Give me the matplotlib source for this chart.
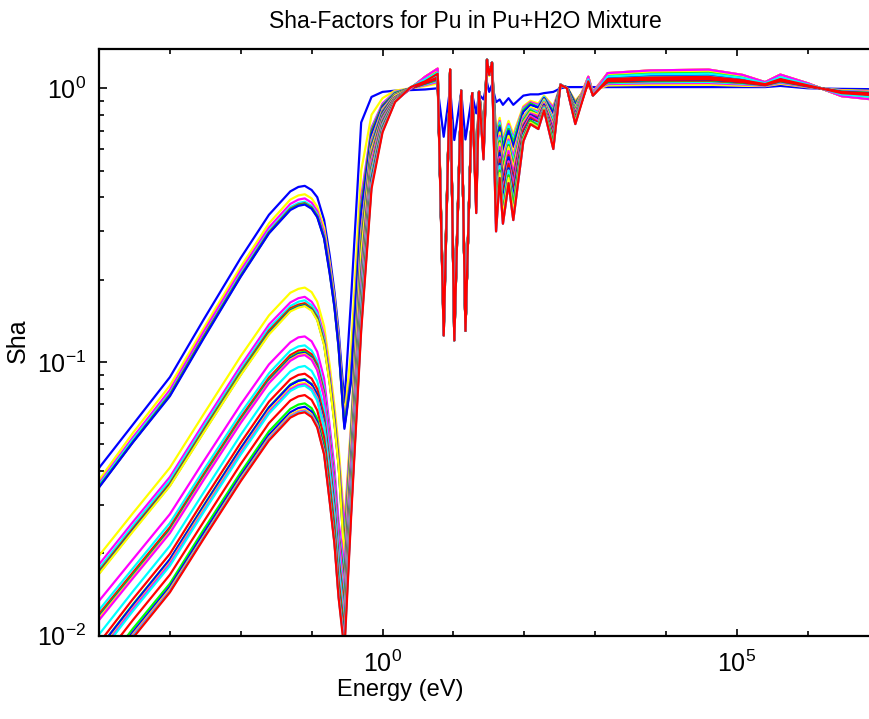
import matplotlib
matplotlib.use("Agg")
import matplotlib.pyplot as plt
from matplotlib.ticker import FixedLocator, LogLocator, NullFormatter

plt.rcParams['font.family'] = ['Liberation Sans', 'DejaVu Sans']
plt.rcParams['mathtext.fontset'] = 'custom'
plt.rcParams['mathtext.rm'] = 'Liberation Sans'
plt.rcParams['mathtext.it'] = 'Liberation Sans:italic'
plt.rcParams['mathtext.bf'] = 'Liberation Sans:bold'

# energy grid (eV) shared by all curves
energy = [1e-4, 3e-4, 1e-3, 3e-3, 1e-2, 2.5e-2, 5e-2, 6.5e-2, 8e-2, 0.1, 0.12, 0.15, 0.18, 0.21, 0.24,
          0.29, 0.36, 0.5, 0.7, 1.0, 1.5, 2.5,
          4.0, 6.0, 7.3, 9.0, 10.3, 12.9, 14.8, 18.4, 21, 23, 26.6, 29.8, 32, 35, 40, 45, 50, 60, 70, 97,
          122, 158, 190, 257, 324, 400, 525, 800, 930, 1500,
          6000, 4e4, 1.2e5, 2.5e5, 4.1e5, 1e6, 3e6, 2e7]

# Sha values, one row per curve
group1 = [
    [0.041, 0.059, 0.088, 0.143, 0.24, 0.345, 0.42, 0.436, 0.44, 0.425, 0.40, 0.33, 0.245, 0.18, 0.13,
     0.071, 0.17, 0.75, 0.93, 0.97, 0.98, 0.985,
     0.99, 1.0, 0.665, 1.0, 0.647, 0.97, 0.65, 0.95, 0.81, 0.95, 0.91, 1.05, 0.97, 1.03, 0.89, 0.91, 0.87, 0.92, 0.87, 0.94,
     0.95, 0.95, 0.96, 0.97, 1.0, 1.01, 1.01, 1.01, 1.01, 1.01,
     1.01, 1.01, 1.01, 1.01, 1.02, 1.0, 0.995, 0.99],
    [0.037, 0.055, 0.082, 0.133, 0.223, 0.321, 0.392, 0.406, 0.41, 0.396, 0.369, 0.31, 0.23, 0.172, 0.123,
     0.062, 0.11, 0.50, 0.80, 0.92, 0.98, 1.0,
     1.018, 1.04, 0.14, 1.14, 0.13, 0.98, 0.135, 0.96, 0.50, 0.97, 0.70, 1.25, 1.11, 1.22, 0.70, 0.78, 0.66, 0.76, 0.68, 0.86,
     0.90, 0.88, 0.94, 0.86, 1.02, 1.01, 0.90, 1.018, 0.98, 1.024,
     1.029, 1.03, 1.021, 1.018, 1.038, 1.008, 0.985, 0.972],
    [0.036, 0.053, 0.079, 0.129, 0.216, 0.31, 0.378, 0.392, 0.396, 0.382, 0.356, 0.297, 0.222, 0.166, 0.119,
     0.06, 0.09, 0.40, 0.72, 0.88, 0.97, 1.0,
     1.027, 1.055, 0.14, 1.15, 0.13, 0.98, 0.135, 0.96, 0.49, 0.97, 0.69, 1.26, 1.12, 1.23, 0.68, 0.76, 0.64, 0.74, 0.66, 0.85,
     0.89, 0.87, 0.93, 0.85, 1.02, 1.01, 0.89, 1.027, 0.98, 1.036,
     1.043, 1.045, 1.032, 1.021, 1.047, 1.011, 0.979, 0.963],
    [0.0355, 0.052, 0.077, 0.125, 0.21, 0.302, 0.368, 0.381, 0.385, 0.372, 0.347, 0.289, 0.216, 0.162, 0.116,
     0.059, 0.088, 0.38, 0.71, 0.87, 0.965, 1.0,
     1.033, 1.065, 0.14, 1.15, 0.13, 0.98, 0.135, 0.96, 0.49, 0.97, 0.69, 1.26, 1.12, 1.23, 0.66, 0.75, 0.63, 0.73, 0.65, 0.84,
     0.88, 0.86, 0.93, 0.83, 1.02, 1.01, 0.88, 1.033, 0.98, 1.044,
     1.052, 1.055, 1.039, 1.024, 1.053, 1.014, 0.976, 0.957],
    [0.035, 0.051, 0.076, 0.124, 0.207, 0.298, 0.363, 0.376, 0.38, 0.367, 0.342, 0.285, 0.213, 0.16, 0.114,
     0.058, 0.087, 0.37, 0.70, 0.865, 0.96, 1.0,
     1.039, 1.075, 0.14, 1.15, 0.13, 0.98, 0.135, 0.96, 0.48, 0.97, 0.68, 1.26, 1.12, 1.23, 0.64, 0.73, 0.61, 0.71, 0.63, 0.83,
     0.88, 0.85, 0.92, 0.82, 1.02, 1.01, 0.88, 1.039, 0.97, 1.052,
     1.062, 1.065, 1.046, 1.026, 1.059, 1.016, 0.972, 0.951],
    [0.035, 0.051, 0.0755, 0.123, 0.206, 0.296, 0.361, 0.374, 0.378, 0.365, 0.34, 0.284, 0.212, 0.159, 0.113,
     0.058, 0.086, 0.36, 0.69, 0.86, 0.96, 1.0,
     1.042, 1.08, 0.14, 1.16, 0.13, 0.98, 0.135, 0.96, 0.48, 0.97, 0.68, 1.26, 1.12, 1.23, 0.64, 0.73, 0.61, 0.71, 0.63, 0.83,
     0.88, 0.85, 0.92, 0.82, 1.02, 1.01, 0.88, 1.042, 0.97, 1.056,
     1.067, 1.07, 1.049, 1.028, 1.062, 1.018, 0.971, 0.948],
    [0.0348, 0.0508, 0.075, 0.122, 0.205, 0.295, 0.359, 0.372, 0.376, 0.363, 0.338, 0.282, 0.21, 0.158, 0.113,
     0.057, 0.085, 0.35, 0.68, 0.855, 0.955, 1.0,
     1.045, 1.085, 0.14, 1.16, 0.13, 0.98, 0.135, 0.96, 0.47, 0.97, 0.67, 1.26, 1.12, 1.23, 0.62, 0.72, 0.59, 0.70, 0.61, 0.82,
     0.87, 0.85, 0.92, 0.81, 1.02, 1.01, 0.87, 1.045, 0.97, 1.06,
     1.071, 1.075, 1.053, 1.029, 1.065, 1.019, 0.969, 0.945],
]

group2 = [
    [0.0196, 0.028, 0.0411, 0.0645, 0.105, 0.148, 0.179, 0.185, 0.187, 0.18, 0.166, 0.135, 0.097, 0.069, 0.049,
     0.026, 0.06, 0.30, 0.65, 0.84, 0.95, 1.0,
     1.102, 1.18, 0.135, 1.17, 0.125, 0.98, 0.13, 0.96, 0.46, 0.97, 0.66, 1.27, 1.12, 1.24, 0.58, 0.69, 0.56, 0.67, 0.58, 0.79,
     0.85, 0.83, 0.91, 0.78, 1.03, 1.0, 0.85, 1.102, 0.97, 1.136,
     1.162, 1.17, 1.119, 1.053, 1.122, 1.043, 0.936, 0.888],
    [0.0182, 0.026, 0.038, 0.0597, 0.097, 0.137, 0.165, 0.171, 0.173, 0.166, 0.154, 0.125, 0.09, 0.064, 0.045,
     0.0245, 0.057, 0.29, 0.64, 0.83, 0.948, 1.0,
     1.099, 1.175, 0.135, 1.17, 0.125, 0.98, 0.13, 0.96, 0.45, 0.97, 0.65, 1.27, 1.12, 1.24, 0.56, 0.67, 0.54, 0.65, 0.56, 0.78,
     0.84, 0.82, 0.90, 0.77, 1.03, 1.0, 0.84, 1.099, 0.97, 1.132,
     1.157, 1.165, 1.116, 1.051, 1.119, 1.041, 0.937, 0.891],
    [0.0176, 0.0252, 0.037, 0.058, 0.094, 0.133, 0.16, 0.166, 0.168, 0.161, 0.15, 0.121, 0.087, 0.062, 0.044,
     0.022, 0.055, 0.28, 0.63, 0.825, 0.945, 1.0,
     1.054, 1.10, 0.135, 1.16, 0.125, 0.98, 0.13, 0.96, 0.44, 0.97, 0.64, 1.27, 1.12, 1.24, 0.54, 0.66, 0.52, 0.64, 0.54, 0.77,
     0.84, 0.81, 0.90, 0.76, 1.03, 1.0, 0.84, 1.054, 0.96, 1.072,
     1.086, 1.09, 1.063, 1.033, 1.074, 1.023, 0.964, 0.936],
    [0.0172, 0.0246, 0.036, 0.0566, 0.092, 0.13, 0.157, 0.162, 0.164, 0.157, 0.146, 0.118, 0.085, 0.061, 0.043,
     0.021, 0.053, 0.27, 0.62, 0.82, 0.944, 1.0,
     1.048, 1.09, 0.135, 1.16, 0.125, 0.98, 0.13, 0.96, 0.43, 0.97, 0.63, 1.27, 1.12, 1.24, 0.52, 0.64, 0.51, 0.62, 0.52, 0.76,
     0.83, 0.80, 0.89, 0.74, 1.03, 1.0, 0.83, 1.048, 0.96, 1.064,
     1.076, 1.08, 1.056, 1.03, 1.068, 1.02, 0.967, 0.942],
    [0.017, 0.0243, 0.0356, 0.0559, 0.091, 0.128, 0.155, 0.16, 0.162, 0.156, 0.144, 0.117, 0.084, 0.06, 0.042,
     0.02, 0.052, 0.26, 0.615, 0.815, 0.942, 1.0,
     1.084, 1.15, 0.135, 1.17, 0.125, 0.98, 0.13, 0.96, 0.43, 0.97, 0.63, 1.27, 1.12, 1.24, 0.52, 0.64, 0.51, 0.62, 0.52, 0.76,
     0.83, 0.80, 0.89, 0.74, 1.03, 1.0, 0.83, 1.084, 0.96, 1.112,
     1.133, 1.14, 1.098, 1.045, 1.104, 1.035, 0.946, 0.906],
    [0.0169, 0.0242, 0.0354, 0.0555, 0.09, 0.127, 0.154, 0.159, 0.161, 0.155, 0.143, 0.116, 0.084, 0.06, 0.042,
     0.019, 0.051, 0.255, 0.61, 0.81, 0.94, 1.0,
     1.072, 1.13, 0.135, 1.16, 0.125, 0.98, 0.13, 0.96, 0.43, 0.97, 0.63, 1.27, 1.12, 1.24, 0.50, 0.63, 0.49, 0.61, 0.51, 0.75,
     0.82, 0.80, 0.89, 0.73, 1.03, 1.0, 0.82, 1.072, 0.96, 1.096,
     1.114, 1.12, 1.084, 1.04, 1.092, 1.03, 0.953, 0.918],
    [0.0168, 0.024, 0.0352, 0.0552, 0.0896, 0.126, 0.153, 0.158, 0.16, 0.154, 0.142, 0.115, 0.083, 0.059, 0.0416,
     0.019, 0.05, 0.25, 0.60, 0.80, 0.94, 1.0,
     1.096, 1.17, 0.135, 1.17, 0.125, 0.98, 0.13, 0.96, 0.43, 0.97, 0.63, 1.27, 1.12, 1.24, 0.50, 0.63, 0.49, 0.61, 0.51, 0.75,
     0.82, 0.80, 0.89, 0.73, 1.03, 1.0, 0.82, 1.096, 0.96, 1.128,
     1.152, 1.16, 1.112, 1.05, 1.116, 1.04, 0.939, 0.894],
]

group3 = [
    [0.0134, 0.019, 0.0278, 0.0434, 0.07, 0.098, 0.118, 0.123, 0.124, 0.119, 0.109, 0.087, 0.058, 0.041, 0.026,
     0.018, 0.045, 0.22, 0.58, 0.80, 0.93, 1.0,
     1.102, 1.18, 0.13, 1.17, 0.125, 0.98, 0.13, 0.96, 0.42, 0.97, 0.62, 1.27, 1.12, 1.24, 0.48, 0.61, 0.47, 0.59, 0.49, 0.74,
     0.81, 0.79, 0.88, 0.72, 1.03, 1.0, 0.81, 1.102, 0.96, 1.136,
     1.162, 1.17, 1.119, 1.053, 1.122, 1.043, 0.936, 0.888],
    [0.0124, 0.0176, 0.0258, 0.0403, 0.065, 0.0909, 0.11, 0.114, 0.115, 0.11, 0.101, 0.0805, 0.054, 0.038, 0.024,
     0.017, 0.044, 0.215, 0.575, 0.795, 0.928, 1.0,
     1.09, 1.16, 0.13, 1.16, 0.125, 0.98, 0.13, 0.96, 0.41, 0.97, 0.61, 1.27, 1.12, 1.24, 0.46, 0.59, 0.46, 0.57, 0.47, 0.73,
     0.80, 0.78, 0.87, 0.70, 1.03, 1.0, 0.80, 1.09, 0.96, 1.12,
     1.143, 1.15, 1.105, 1.048, 1.11, 1.038, 0.943, 0.90],
    [0.012, 0.017, 0.0249, 0.0389, 0.0627, 0.0877, 0.106, 0.11, 0.111, 0.1066, 0.0977, 0.0777, 0.052, 0.0366, 0.0233,
     0.016, 0.043, 0.21, 0.57, 0.79, 0.926, 1.0,
     1.054, 1.10, 0.13, 1.16, 0.125, 0.98, 0.13, 0.96, 0.41, 0.97, 0.61, 1.27, 1.12, 1.24, 0.46, 0.59, 0.46, 0.57, 0.47, 0.73,
     0.80, 0.78, 0.87, 0.70, 1.03, 1.0, 0.80, 1.054, 0.96, 1.072,
     1.086, 1.09, 1.063, 1.033, 1.074, 1.023, 0.964, 0.936],
    [0.0118, 0.0167, 0.0244, 0.0382, 0.0616, 0.0861, 0.104, 0.108, 0.109, 0.1046, 0.0959, 0.0763, 0.0512, 0.036, 0.0229,
     0.0155, 0.042, 0.205, 0.56, 0.785, 0.924, 1.0,
     1.096, 1.17, 0.13, 1.17, 0.125, 0.98, 0.13, 0.96, 0.40, 0.97, 0.60, 1.27, 1.12, 1.24, 0.44, 0.58, 0.44, 0.56, 0.45, 0.72,
     0.80, 0.77, 0.87, 0.69, 1.03, 1.0, 0.80, 1.096, 0.95, 1.128,
     1.152, 1.16, 1.112, 1.05, 1.116, 1.04, 0.939, 0.894],
    [0.0117, 0.0165, 0.0242, 0.0378, 0.061, 0.0853, 0.103, 0.107, 0.108, 0.1037, 0.095, 0.0756, 0.0508, 0.0356, 0.0227,
     0.015, 0.041, 0.20, 0.555, 0.78, 0.922, 1.0,
     1.078, 1.14, 0.13, 1.16, 0.125, 0.98, 0.13, 0.96, 0.40, 0.97, 0.60, 1.27, 1.12, 1.24, 0.44, 0.58, 0.44, 0.56, 0.45, 0.72,
     0.80, 0.77, 0.87, 0.69, 1.03, 1.0, 0.80, 1.078, 0.95, 1.104,
     1.124, 1.13, 1.091, 1.043, 1.098, 1.033, 0.95, 0.912],
    [0.0116, 0.0164, 0.024, 0.0375, 0.0605, 0.0845, 0.102, 0.106, 0.107, 0.1027, 0.0942, 0.0749, 0.0503, 0.0353, 0.0225,
     0.0145, 0.04, 0.195, 0.55, 0.775, 0.92, 1.0,
     1.09, 1.16, 0.13, 1.16, 0.125, 0.98, 0.13, 0.96, 0.40, 0.97, 0.60, 1.27, 1.12, 1.24, 0.42, 0.56, 0.42, 0.54, 0.44, 0.71,
     0.79, 0.76, 0.86, 0.68, 1.03, 1.0, 0.79, 1.09, 0.95, 1.12,
     1.143, 1.15, 1.105, 1.048, 1.11, 1.038, 0.943, 0.90],
    [0.0114, 0.0162, 0.0237, 0.0371, 0.0599, 0.0837, 0.101, 0.105, 0.106, 0.1018, 0.0933, 0.0742, 0.0498, 0.035, 0.0223,
     0.014, 0.04, 0.19, 0.54, 0.77, 0.92, 1.0,
     1.096, 1.17, 0.13, 1.17, 0.125, 0.98, 0.13, 0.96, 0.40, 0.97, 0.60, 1.27, 1.12, 1.24, 0.42, 0.56, 0.42, 0.54, 0.44, 0.71,
     0.79, 0.76, 0.86, 0.68, 1.03, 1.0, 0.79, 1.096, 0.95, 1.128,
     1.152, 1.16, 1.112, 1.05, 1.116, 1.04, 0.939, 0.894],
]

group4 = [
    [0.0101, 0.0145, 0.0213, 0.0334, 0.0542, 0.0764, 0.0923, 0.0957, 0.0967, 0.0928, 0.0851, 0.0677, 0.0454, 0.0319, 0.0203,
     0.0135, 0.037, 0.18, 0.52, 0.76, 0.915, 1.0,
     1.072, 1.13, 0.13, 1.16, 0.12, 0.98, 0.13, 0.96, 0.39, 0.97, 0.59, 1.27, 1.12, 1.24, 0.40, 0.55, 0.41, 0.53, 0.42, 0.70,
     0.78, 0.75, 0.86, 0.67, 1.03, 1.0, 0.78, 1.072, 0.95, 1.096,
     1.114, 1.12, 1.084, 1.04, 1.092, 1.03, 0.953, 0.918],
    [0.0094, 0.0136, 0.0199, 0.0313, 0.0507, 0.0716, 0.0865, 0.0897, 0.0906, 0.087, 0.0797, 0.0634, 0.0426, 0.0299, 0.019,
     0.013, 0.036, 0.175, 0.515, 0.755, 0.914, 1.0,
     1.054, 1.10, 0.13, 1.16, 0.12, 0.98, 0.13, 0.96, 0.39, 0.97, 0.59, 1.27, 1.12, 1.24, 0.40, 0.55, 0.41, 0.53, 0.42, 0.70,
     0.78, 0.75, 0.86, 0.67, 1.03, 1.0, 0.78, 1.054, 0.95, 1.072,
     1.086, 1.09, 1.063, 1.033, 1.074, 1.023, 0.964, 0.936],
    [0.009, 0.013, 0.019, 0.0299, 0.0485, 0.0684, 0.0827, 0.0857, 0.0866, 0.0831, 0.0762, 0.0606, 0.0407, 0.0286, 0.0182,
     0.0125, 0.035, 0.17, 0.51, 0.75, 0.912, 1.0,
     1.093, 1.165, 0.13, 1.17, 0.12, 0.98, 0.13, 0.96, 0.38, 0.97, 0.58, 1.27, 1.12, 1.24, 0.38, 0.53, 0.39, 0.51, 0.40, 0.68,
     0.77, 0.74, 0.85, 0.65, 1.03, 1.0, 0.77, 1.093, 0.95, 1.124,
     1.147, 1.155, 1.109, 1.049, 1.113, 1.039, 0.941, 0.897],
    [0.009, 0.0129, 0.019, 0.0297, 0.0483, 0.0681, 0.0823, 0.0853, 0.0862, 0.0828, 0.0759, 0.0603, 0.0405, 0.0284, 0.0181,
     0.012, 0.035, 0.168, 0.505, 0.745, 0.91, 1.0,
     1.078, 1.14, 0.13, 1.16, 0.12, 0.98, 0.13, 0.96, 0.38, 0.97, 0.58, 1.27, 1.12, 1.24, 0.38, 0.53, 0.39, 0.51, 0.40, 0.68,
     0.77, 0.74, 0.85, 0.65, 1.03, 1.0, 0.77, 1.078, 0.95, 1.104,
     1.124, 1.13, 1.091, 1.043, 1.098, 1.033, 0.95, 0.912],
    [0.0087, 0.0126, 0.0185, 0.029, 0.047, 0.0664, 0.0802, 0.0832, 0.084, 0.0806, 0.0739, 0.0588, 0.0395, 0.0277, 0.0176,
     0.0118, 0.034, 0.165, 0.50, 0.74, 0.91, 1.0,
     1.102, 1.18, 0.13, 1.17, 0.12, 0.98, 0.13, 0.96, 0.37, 0.97, 0.57, 1.27, 1.12, 1.24, 0.36, 0.52, 0.37, 0.50, 0.38, 0.67,
     0.76, 0.74, 0.85, 0.64, 1.03, 1.0, 0.76, 1.102, 0.95, 1.136,
     1.162, 1.17, 1.119, 1.053, 1.122, 1.043, 0.936, 0.888],
    [0.0086, 0.0125, 0.0183, 0.0286, 0.0465, 0.0656, 0.0793, 0.0822, 0.083, 0.0797, 0.073, 0.0581, 0.039, 0.0274, 0.0174,
     0.0115, 0.034, 0.162, 0.49, 0.735, 0.908, 1.0,
     1.084, 1.15, 0.13, 1.17, 0.12, 0.98, 0.13, 0.96, 0.37, 0.97, 0.57, 1.27, 1.12, 1.24, 0.36, 0.52, 0.37, 0.50, 0.38, 0.67,
     0.76, 0.74, 0.85, 0.64, 1.03, 1.0, 0.76, 1.084, 0.95, 1.112,
     1.133, 1.14, 1.098, 1.045, 1.104, 1.035, 0.946, 0.906],
    [0.0085, 0.0123, 0.018, 0.0283, 0.0459, 0.0648, 0.0783, 0.0812, 0.082, 0.0787, 0.0722, 0.0574, 0.0385, 0.0271, 0.0172,
     0.011, 0.033, 0.16, 0.485, 0.73, 0.906, 1.0,
     1.066, 1.12, 0.13, 1.16, 0.12, 0.98, 0.13, 0.96, 0.37, 0.97, 0.57, 1.27, 1.12, 1.24, 0.36, 0.52, 0.37, 0.50, 0.38, 0.67,
     0.76, 0.74, 0.85, 0.64, 1.03, 1.0, 0.76, 1.066, 0.95, 1.088,
     1.105, 1.11, 1.077, 1.038, 1.086, 1.028, 0.957, 0.924],
]

group5 = [
    [0.0079, 0.0114, 0.0167, 0.0261, 0.0424, 0.0598, 0.0723, 0.0749, 0.0757, 0.0727, 0.0666, 0.053, 0.0356, 0.025, 0.0159,
     0.0105, 0.031, 0.15, 0.47, 0.72, 0.905, 1.0,
     1.048, 1.09, 0.125, 1.16, 0.12, 0.98, 0.13, 0.96, 0.37, 0.97, 0.57, 1.27, 1.12, 1.24, 0.34, 0.50, 0.35, 0.48, 0.37, 0.66,
     0.76, 0.73, 0.84, 0.63, 1.03, 1.0, 0.76, 1.048, 0.94, 1.064,
     1.076, 1.08, 1.056, 1.03, 1.068, 1.02, 0.967, 0.942],
    [0.0073, 0.0106, 0.0155, 0.0244, 0.0395, 0.0558, 0.0674, 0.0699, 0.0706, 0.0678, 0.0621, 0.0494, 0.0332, 0.0233, 0.0148,
     0.0100, 0.030, 0.145, 0.465, 0.715, 0.903, 1.0,
     1.09, 1.16, 0.125, 1.17, 0.12, 0.98, 0.13, 0.96, 0.37, 0.97, 0.57, 1.27, 1.12, 1.24, 0.34, 0.50, 0.35, 0.48, 0.37, 0.66,
     0.76, 0.73, 0.84, 0.63, 1.03, 1.0, 0.76, 1.09, 0.94, 1.12,
     1.143, 1.15, 1.105, 1.048, 1.11, 1.038, 0.943, 0.90],
    [0.0071, 0.0103, 0.0151, 0.0237, 0.0384, 0.0542, 0.0655, 0.0679, 0.0686, 0.0659, 0.0604, 0.048, 0.0322, 0.0226, 0.0144,
     0.0098, 0.029, 0.14, 0.46, 0.71, 0.90, 1.0,
     1.075, 1.135, 0.125, 1.16, 0.12, 0.98, 0.13, 0.96, 0.36, 0.97, 0.56, 1.27, 1.12, 1.24, 0.32, 0.49, 0.34, 0.47, 0.35, 0.65,
     0.75, 0.72, 0.84, 0.61, 1.03, 1.0, 0.75, 1.075, 0.94, 1.10,
     1.119, 1.125, 1.088, 1.041, 1.095, 1.031, 0.951, 0.915],
    [0.007, 0.0101, 0.0148, 0.0231, 0.0376, 0.053, 0.0641, 0.0664, 0.0671, 0.0644, 0.059, 0.047, 0.0315, 0.0221, 0.0141,
     0.0095, 0.029, 0.137, 0.45, 0.705, 0.898, 1.0,
     1.096, 1.17, 0.125, 1.17, 0.12, 0.98, 0.13, 0.96, 0.36, 0.97, 0.56, 1.27, 1.12, 1.24, 0.32, 0.49, 0.34, 0.47, 0.35, 0.65,
     0.75, 0.72, 0.84, 0.61, 1.03, 1.0, 0.75, 1.096, 0.94, 1.128,
     1.152, 1.16, 1.112, 1.05, 1.116, 1.04, 0.939, 0.894],
    [0.0069, 0.01, 0.0146, 0.0229, 0.0372, 0.0525, 0.0634, 0.0657, 0.0664, 0.0637, 0.0584, 0.0465, 0.0312, 0.0219, 0.0139,
     0.0093, 0.028, 0.135, 0.445, 0.70, 0.895, 1.0,
     1.102, 1.18, 0.125, 1.17, 0.12, 0.98, 0.13, 0.96, 0.35, 0.97, 0.55, 1.27, 1.12, 1.24, 0.30, 0.47, 0.32, 0.45, 0.33, 0.64,
     0.74, 0.71, 0.83, 0.60, 1.03, 1.0, 0.74, 1.102, 0.94, 1.136,
     1.162, 1.17, 1.119, 1.053, 1.122, 1.043, 0.936, 0.888],
    [0.0069, 0.0099, 0.0145, 0.0228, 0.037, 0.0521, 0.063, 0.0653, 0.066, 0.0634, 0.0581, 0.0462, 0.031, 0.0218, 0.0139,
     0.009, 0.028, 0.132, 0.44, 0.695, 0.892, 1.01,
     1.078, 1.14, 0.125, 1.16, 0.12, 0.98, 0.13, 0.96, 0.35, 0.97, 0.55, 1.27, 1.12, 1.24, 0.30, 0.47, 0.32, 0.45, 0.33, 0.64,
     0.74, 0.71, 0.83, 0.60, 1.03, 1.0, 0.74, 1.078, 0.94, 1.104,
     1.124, 1.13, 1.091, 1.043, 1.098, 1.033, 0.95, 0.912],
    [0.0068, 0.0098, 0.0144, 0.0226, 0.0367, 0.0517, 0.0626, 0.0648, 0.0655, 0.0629, 0.0576, 0.0459, 0.0308, 0.0216, 0.0138,
     0.0088, 0.027, 0.13, 0.43, 0.69, 0.89, 1.01,
     1.06, 1.13, 0.125, 1.17, 0.12, 0.98, 0.13, 0.96, 0.35, 0.97, 0.55, 1.27, 1.12, 1.24, 0.30, 0.47, 0.32, 0.45, 0.33, 0.64,
     0.74, 0.71, 0.83, 0.60, 1.03, 1.0, 0.74, 1.06, 0.94, 1.08,
     1.095, 1.10, 1.07, 1.035, 1.08, 1.025, 0.96, 0.93],
]

line_colors = ['#0000ff', '#ffff00', '#ff00ff', '#00ffff', '#ff0000', '#00ff00']

fig = plt.figure(figsize=(8.7, 7.19), dpi=100)
# right edge of the axes lies past the figure edge, as in the original
ax = fig.add_axes([99 / 870, 83.3 / 719, 801 / 870, 586.4 / 719])

curves = group1 + group2 + group3 + group4 + group5
for i, sha in enumerate(curves):
    ax.plot(energy, sha, color=line_colors[i % len(line_colors)], lw=1.6)

ax.set_xscale('log')
ax.set_yscale('log')
ax.set_xlim(1e-4, 2e7)
ax.set_ylim(0.01, 1.388)

ax.set_xticks([1e0, 1e5])
ax.set_xticklabels(['$10^{0}$', '$10^{5}$'])
ax.xaxis.set_minor_locator(FixedLocator([10.0 ** k for k in range(-4, 8)]))
ax.xaxis.set_minor_formatter(NullFormatter())
ax.set_yticks([1e-2, 1e-1, 1e0])
ax.set_yticklabels(['$10^{-2}$', '$10^{-1}$', '$10^{0}$'])
ax.yaxis.set_minor_locator(LogLocator(base=10, subs=range(2, 10)))
ax.yaxis.set_minor_formatter(NullFormatter())

ax.tick_params(which='both', direction='in', top=True, right=True, width=1.2, labelsize=18)
ax.tick_params(axis='x', which='major', length=5, pad=11)
ax.tick_params(axis='y', which='major', length=6, pad=9)
ax.tick_params(which='minor', length=3.5)
for sp in ax.spines.values():
    sp.set_linewidth(1.6)

fig.text(465 / 870, 1 - 22 / 719, 'Sha-Factors for Pu in Pu+H2O Mixture', ha='center', va='center', fontsize=16.5)
fig.text(400 / 870, 1 - 690 / 719, 'Energy (eV)', ha='center', va='center', fontsize=17)
fig.text(18 / 870, 1 - 341 / 719, 'Sha', ha='center', va='center', rotation=90, fontsize=18)

fig.savefig('out.png', dpi=100)
